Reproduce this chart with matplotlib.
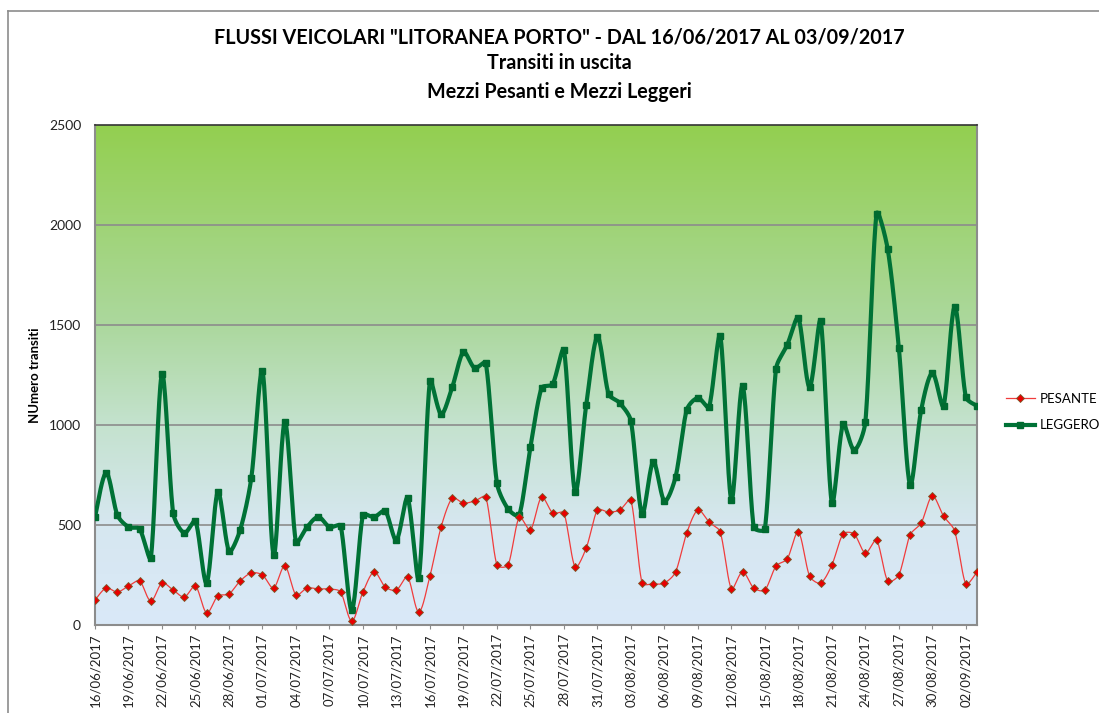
import numpy as np
import pandas as pd
import matplotlib
matplotlib.use("Agg")
import matplotlib.pyplot as plt
import matplotlib.dates as mdates
from matplotlib.colors import LinearSegmentedColormap
from matplotlib.lines import Line2D

plt.rcParams['font.family'] = ['Lato', 'DejaVu Sans']

# daily values 16/06/2017 -> 03/09/2017
start_day = "2017-06-16"
end_day = "2017-09-03"

pesante = [125, 185, 165, 195, 220, 120, 210, 175, 140, 195, 60, 145, 155, 220,
           260, 250, 185, 295, 150, 185, 180, 180, 165, 20, 165, 265, 190, 175,
           240, 65, 245, 490, 635, 610, 620, 640, 300, 300, 540, 475, 640, 560,
           560, 290, 385, 575, 565, 575, 625, 210, 205, 210, 265, 460, 575,
           515, 465, 180, 265, 185, 175, 295, 330, 465, 245, 210, 300, 455, 455,
           360, 425, 220, 250, 450, 510, 645, 545, 470, 205, 265]

leggero = [540, 760, 550, 490, 480, 335, 1255, 560, 460, 520, 210, 665, 370, 475,
           735, 1270, 350, 1015, 415, 490, 540, 490, 495, 75, 550, 540, 570, 425,
           635, 235, 1220, 1055, 1190, 1365, 1285, 1310, 710, 580, 550, 890, 1185,
           1205, 1375, 665, 1100, 1440, 1155, 1110, 1020, 555, 815, 620, 740, 1075,
           1135, 1090, 1445, 625, 1195, 490, 480, 1280, 1400, 1535, 1190, 1520, 610,
           1005, 875, 1015, 2055, 1880, 1385, 700, 1075, 1260, 1095, 1590, 1140, 1095]

y_ticks = [0, 500, 1000, 1500, 2000, 2500]

days = pd.date_range(start_day, end_day, freq="D")
xd = mdates.date2num(days.to_pydatetime())

W, H = 1099, 713
ax_left, ax_right, ax_top, ax_bottom = 95, 977, 125, 625


def smooth(x, y, n=20):
    # excel-like smoothed line: catmull-rom bezier, tangent shortened on short segments
    x = np.asarray(x, float)
    y = np.asarray(y, float)
    kx = (ax_right - ax_left) / (x[-1] - x[0])
    ky = (ax_bottom - ax_top) / 2500
    px = np.concatenate([[x[0]], x, [x[-1]]])
    py = np.concatenate([[y[0]], y, [y[-1]]])
    t = np.linspace(0, 1, n, endpoint=False)

    def dist(i, j):
        return np.hypot((px[j] - px[i]) * kx, (py[j] - py[i]) * ky)

    ox, oy = [], []
    for i in range(1, len(px) - 2):
        d01, d12, d23 = dist(i - 1, i), dist(i, i + 1), dist(i + 1, i + 2)
        f1 = min(1, 2 * d12 / (d01 + d12)) / 6 if d01 + d12 > 0 else 0
        f2 = min(1, 2 * d12 / (d12 + d23)) / 6 if d12 + d23 > 0 else 0
        c1x = px[i] + (px[i + 1] - px[i - 1]) * f1
        c1y = py[i] + (py[i + 1] - py[i - 1]) * f1
        c2x = px[i + 1] - (px[i + 2] - px[i]) * f2
        c2y = py[i + 1] - (py[i + 2] - py[i]) * f2
        b0 = (1 - t) ** 3
        b1 = 3 * (1 - t) ** 2 * t
        b2 = 3 * (1 - t) * t ** 2
        b3 = t ** 3
        ox.append(b0 * px[i] + b1 * c1x + b2 * c2x + b3 * px[i + 1])
        oy.append(b0 * py[i] + b1 * c1y + b2 * c2y + b3 * py[i + 1])
    ox.append([x[-1]])
    oy.append([y[-1]])
    return np.concatenate(ox), np.concatenate(oy)


fig = plt.figure(figsize=(W / 100, H / 100), dpi=100)
ax = fig.add_axes([ax_left / W, 1 - ax_bottom / H, (ax_right - ax_left) / W,
                   (ax_bottom - ax_top) / H])

# background gradient
grad = LinearSegmentedColormap.from_list("bg", [
    (0.0, (218 / 255, 233 / 255, 248 / 255)),
    (0.2, (214 / 255, 231 / 255, 240 / 255)),
    (0.4, (196 / 255, 226 / 255, 206 / 255)),
    (0.6, (172 / 255, 216 / 255, 158 / 255)),
    (1.0, (147 / 255, 207 / 255, 80 / 255)),
])
ax.imshow(np.linspace(0, 1, 256).reshape(-1, 1), cmap=grad, origin="lower",
          aspect="auto", extent=[xd[0], xd[-1], 0, 2500], zorder=0)

for v in y_ticks[1:-1]:
    ax.axhline(v, color="#8c8c8c", lw=1.2, zorder=1)

sx, sy = smooth(xd, leggero)
ax.plot(sx, sy, color="#007236", lw=3.0, zorder=3, solid_capstyle="round")
ax.plot(xd, leggero, ls="none", marker="s", ms=4.2, color="#006b30", zorder=4)

sx, sy = smooth(xd, pesante)
ax.plot(sx, sy, color="#f03c3c", lw=0.9, zorder=5)
ax.plot(xd, pesante, ls="none", marker="D", ms=4.3, color="#e80000",
        mec="#7a5a2a", mew=0.6, zorder=6)

ax.set_xlim(xd[0], xd[-1])
ax.set_ylim(0, 2500)
ax.set_yticks(y_ticks)
ax.tick_params(axis="y", length=0, labelsize=10, pad=10, labelcolor="#222222")
ax.set_xticks(xd[::3])
ax.xaxis.set_major_formatter(mdates.DateFormatter("%d/%m/%Y"))
ax.tick_params(axis="x", rotation=90, labelsize=9.5, length=3, pad=3,
               color="#8c8c8c", labelcolor="#222222")

for s in ["left", "bottom", "right"]:
    ax.spines[s].set_color("#8c8c8c")
    ax.spines[s].set_linewidth(1.5)
ax.spines["top"].set_color("#333333")
ax.spines["top"].set_linewidth(1.2)

ax.set_ylabel("NUmero transiti", fontsize=9.5, fontweight="bold", labelpad=6)

fig.text(559 / W, 1 - 37 / H, 'FLUSSI VEICOLARI "LITORANEA PORTO" - DAL 16/06/2017 AL 03/09/2017',
         ha="center", va="center", fontsize=14.2, fontweight="bold")
fig.text(559 / W, 1 - 63 / H, "Transiti in uscita",
         ha="center", va="center", fontsize=14.2, fontweight="bold")
fig.text(559 / W, 1 - 92 / H, "Mezzi Pesanti e Mezzi Leggeri",
         ha="center", va="center", fontsize=14.2, fontweight="bold")

handles = [
    Line2D([], [], color="#f03c3c", lw=0.9, marker="D", ms=4.3,
           mfc="#e80000", mec="#7a5a2a", mew=0.6),
    Line2D([], [], color="#007236", lw=3.0, marker="s", ms=4.2, mfc="#006b30",
           mec="#006b30"),
]
fig.legend(handles, ["PESANTE", "LEGGERO"], loc="center left",
           bbox_to_anchor=(994 / W, 1 - 412 / H), frameon=False,
           fontsize=9.5, handlelength=2.2, labelspacing=1.1, handletextpad=0.4)

# outer chart border
fig.add_artist(Line2D([7.5 / W, 7.5 / W], [0, 1 - 10.5 / H], color="#8c8c8c",
                      lw=1.2, transform=fig.transFigure))
fig.add_artist(Line2D([7.5 / W, 1], [1 - 10.5 / H, 1 - 10.5 / H], color="#8c8c8c",
                      lw=1.2, transform=fig.transFigure))

fig.savefig("out.png", dpi=100, facecolor="white")
